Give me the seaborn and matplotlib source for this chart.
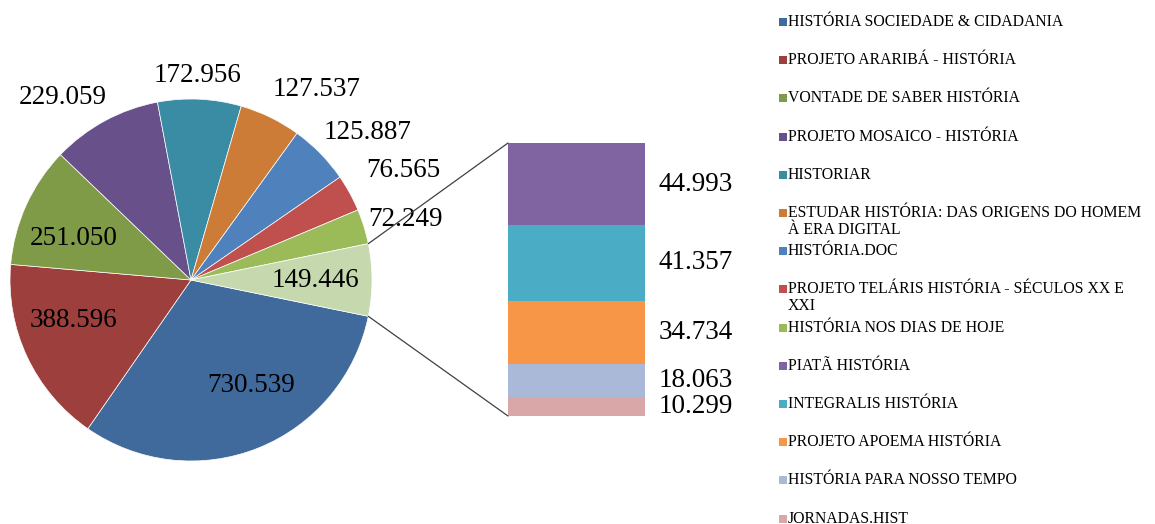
import numpy as np
import pandas as pd
import matplotlib
matplotlib.use('Agg')
import matplotlib.pyplot as plt
import seaborn as sns
from matplotlib.patches import ConnectionPatch, Rectangle

sns.set_theme(style='white')
plt.rcParams['font.family'] = ['Liberation Serif', 'DejaVu Serif']

# fatias do gráfico de pizza (ordem do Excel)
pie_names = ['HISTÓRIA SOCIEDADE & CIDADANIA', 'PROJETO ARARIBÁ - HISTÓRIA',
             'VONTADE DE SABER HISTÓRIA', 'PROJETO MOSAICO - HISTÓRIA', 'HISTORIAR',
             'ESTUDAR HISTÓRIA: DAS ORIGENS DO HOMEM\nÀ ERA DIGITAL', 'HISTÓRIA.DOC',
             'PROJETO TELÁRIS HISTÓRIA - SÉCULOS XX E\nXXI', 'HISTÓRIA NOS DIAS DE HOJE']
pie_values = [730539, 388596, 251050, 229059, 172956, 127537, 125887, 76565, 72249]
pie_colors = ['#416A9C', '#9C3F3D', '#7F9B48', '#68518A', '#3A8CA4', '#CD7C37',
              '#4F81BD', '#C0504D', '#9BBB59']

# coleções agrupadas na barra "outros"
bar_names = ['PIATÃ HISTÓRIA', 'INTEGRALIS HISTÓRIA', 'PROJETO APOEMA HISTÓRIA',
             'HISTÓRIA PARA NOSSO TEMPO', 'JORNADAS.HIST']
bar_values = [44993, 41357, 34734, 18063, 10299]
bar_colors = ['#8064A2', '#4BACC6', '#F79646', '#A9B9D7', '#D9A7A7']
other_color = '#C5D8AE'


def fmt(v):
    return f'{v:,}'.replace(',', '.')


W, H = 1155, 524
fig = plt.figure(figsize=(W / 100, H / 100), dpi=100)

# pizza principal
cx, cy, r = 191, 280, 181
ax_pie = fig.add_axes([(cx - r) / W, (H - cy - r) / H, 2 * r / W, 2 * r / H])
other_total = sum(bar_values)
all_values = pie_values + [other_total]
all_colors = pie_colors + [other_color]
start = -other_total / sum(all_values) * 180
wedges, _ = ax_pie.pie(all_values, colors=all_colors, startangle=start, counterclock=False,
                       wedgeprops=dict(edgecolor='white', linewidth=0.5))
ax_pie.set_xlim(-1, 1)
ax_pie.set_ylim(-1, 1)
ax_pie.set_aspect('equal')
ax_pie.axis('off')

# posição dos rótulos: distância radial e desvio angular (graus) a partir do meio da fatia
label_dist = [0.67, 0.69, 0.69, 1.23, 1.13, 1.26, 1.27, 1.32, 1.23, 0.69]
label_shift = [8, -6, 5, 6.6, 1, -7.4, -4.4, -1.3, -1.5, 0]
for w, v, d, s in zip(wedges, all_values, label_dist, label_shift):
    mid = np.deg2rad((w.theta1 + w.theta2) / 2 + s)
    ax_pie.text(d * np.cos(mid), d * np.sin(mid), fmt(v), ha='center', va='center',
                fontsize=19.5, color='black')

# barra empilhada com o detalhamento de "outros"
ax_bar = fig.add_axes([508 / W, (H - 416) / H, (645 - 508) / W, (416 - 143) / H])
bar_df = pd.DataFrame({'grupo': ['outros'] * len(bar_values), 'valor': bar_values})
bottoms = np.cumsum(bar_values[::-1])[::-1] - np.array(bar_values)
for i, row in bar_df.iterrows():
    sns.barplot(x=[0], y=[row['valor']], bottom=bottoms[i], color=bar_colors[i],
                saturation=1, width=1, ax=ax_bar, edgecolor='none')
    ax_bar.text(0.6, bottoms[i] + row['valor'] / 2, fmt(row['valor']),
                ha='left', va='center', fontsize=19.5, color='black')
ax_bar.set_xlim(-0.5, 0.5)
ax_bar.set_ylim(0, other_total)
ax_bar.axis('off')

# linhas de ligação entre a fatia "outros" e a barra
ow = wedges[-1]
for ang, yb in [(max(ow.theta1, ow.theta2), other_total), (min(ow.theta1, ow.theta2), 0)]:
    a = np.deg2rad(ang)
    con = ConnectionPatch(xyA=(np.cos(a), np.sin(a)), coordsA=ax_pie.transData,
                          xyB=(-0.5, yb), coordsB=ax_bar.transData,
                          color='#404040', linewidth=0.9)
    fig.add_artist(con)

# legenda desenhada à mão, no estilo do Excel
legend_names = pie_names + bar_names
legend_colors = pie_colors + bar_colors
for i, (name, col) in enumerate(zip(legend_names, legend_colors)):
    y = 22 + i * 38.2
    fig.add_artist(Rectangle((779 / W, 1 - (y + 4) / H), 8 / W, 8 / H,
                             facecolor=col, edgecolor='none', transform=fig.transFigure))
    fig.text(788 / W, 1 - (y - 8) / H, name, ha='left', va='top', fontsize=11.3,
             linespacing=1.05, color='black')

fig.savefig('out.png', dpi=100)
